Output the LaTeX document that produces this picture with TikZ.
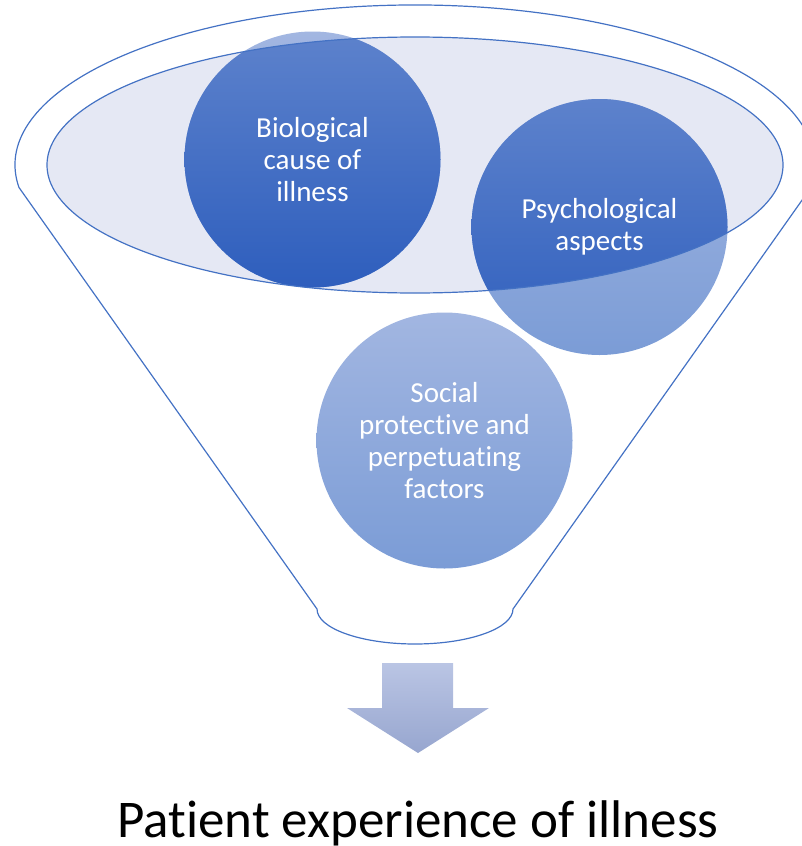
\documentclass[tikz,border=0pt]{standalone}
\usepackage{fontspec}
\setmainfont[Ligatures=NoCommon]{Carlito}
\begin{document}
\begin{tikzpicture}[x=1pt,y=1pt,
  outline/.style={draw=linkblue, line width=1.2pt},
  lightball/.style={circle, inner sep=0pt, minimum size=256pt, top color=ballLightTop, bottom color=ballLightBot},
  darkball/.style={circle, inner sep=0pt, minimum size=256pt, top color=ballDarkTop, bottom color=ballDarkBot},
  balltext/.style={align=center, text=white, inner sep=0pt, font=\fontsize{29}{32}\selectfont}]
\definecolor{linkblue}{HTML}{4472C4}
\definecolor{rimfill}{HTML}{E5E8F4}
\definecolor{ballLightTop}{HTML}{A2B6E1}
\definecolor{ballLightBot}{HTML}{7B9CD6}
\definecolor{ballDarkTop}{HTML}{5D82CC}
\definecolor{ballDarkBot}{HTML}{2E5EBD}
\definecolor{arrowTop}{HTML}{BAC5E4}
\definecolor{arrowBot}{HTML}{97A6CF}
\useasboundingbox (0,0) rectangle (802,-846);

% funnel body: outer rim arc, sides and rounded bottom
\draw[outline] (19,-187.5) arc[start angle=188.1, end angle=-8.1, x radius=400, y radius=160]
  -- (513,-609) arc[start angle=0, end angle=-180, x radius=98, y radius=35] -- cycle;

% inner rim surface
\fill[rimfill] (415,-165) ellipse[x radius=368, y radius=128];

% the three balls, pale where they stick out of the rim
\node[lightball] (bio) at (312.5,-159.5) {};
\node[lightball] (psy) at (599.5,-227) {};
\node[lightball] (soc) at (444.5,-440.5) {};

% deeper colour inside the rim
\begin{scope}
  \clip (415,-165) ellipse[x radius=368, y radius=128];
  \node[darkball] at (bio) {};
  \node[darkball] at (psy) {};
  \node[darkball] at (soc) {};
\end{scope}

% rim edge
\draw[outline] (415,-165) ellipse[x radius=368, y radius=128];

% labels
\node[balltext] (biotext) at (bio) {Biological\\cause of\\illness};
\node[balltext] (psytext) at (psy) {Psychological\\aspects};
\node[balltext] (soctext) at (soc) {Social\\protective and\\perpetuating\\factors};

% output arrow
\shade[top color=arrowTop, bottom color=arrowBot]
  (382,-663) -- (453,-663) -- (453,-708) -- (489,-708) -- (418,-753)
  -- (347,-708) -- (382,-708) -- cycle;

% result
\node[inner sep=0pt, anchor=base, font=\fontsize{53}{60}\selectfont] (result) at (418,-837)
  {Patient experience of illness};
\end{tikzpicture}
\end{document}
